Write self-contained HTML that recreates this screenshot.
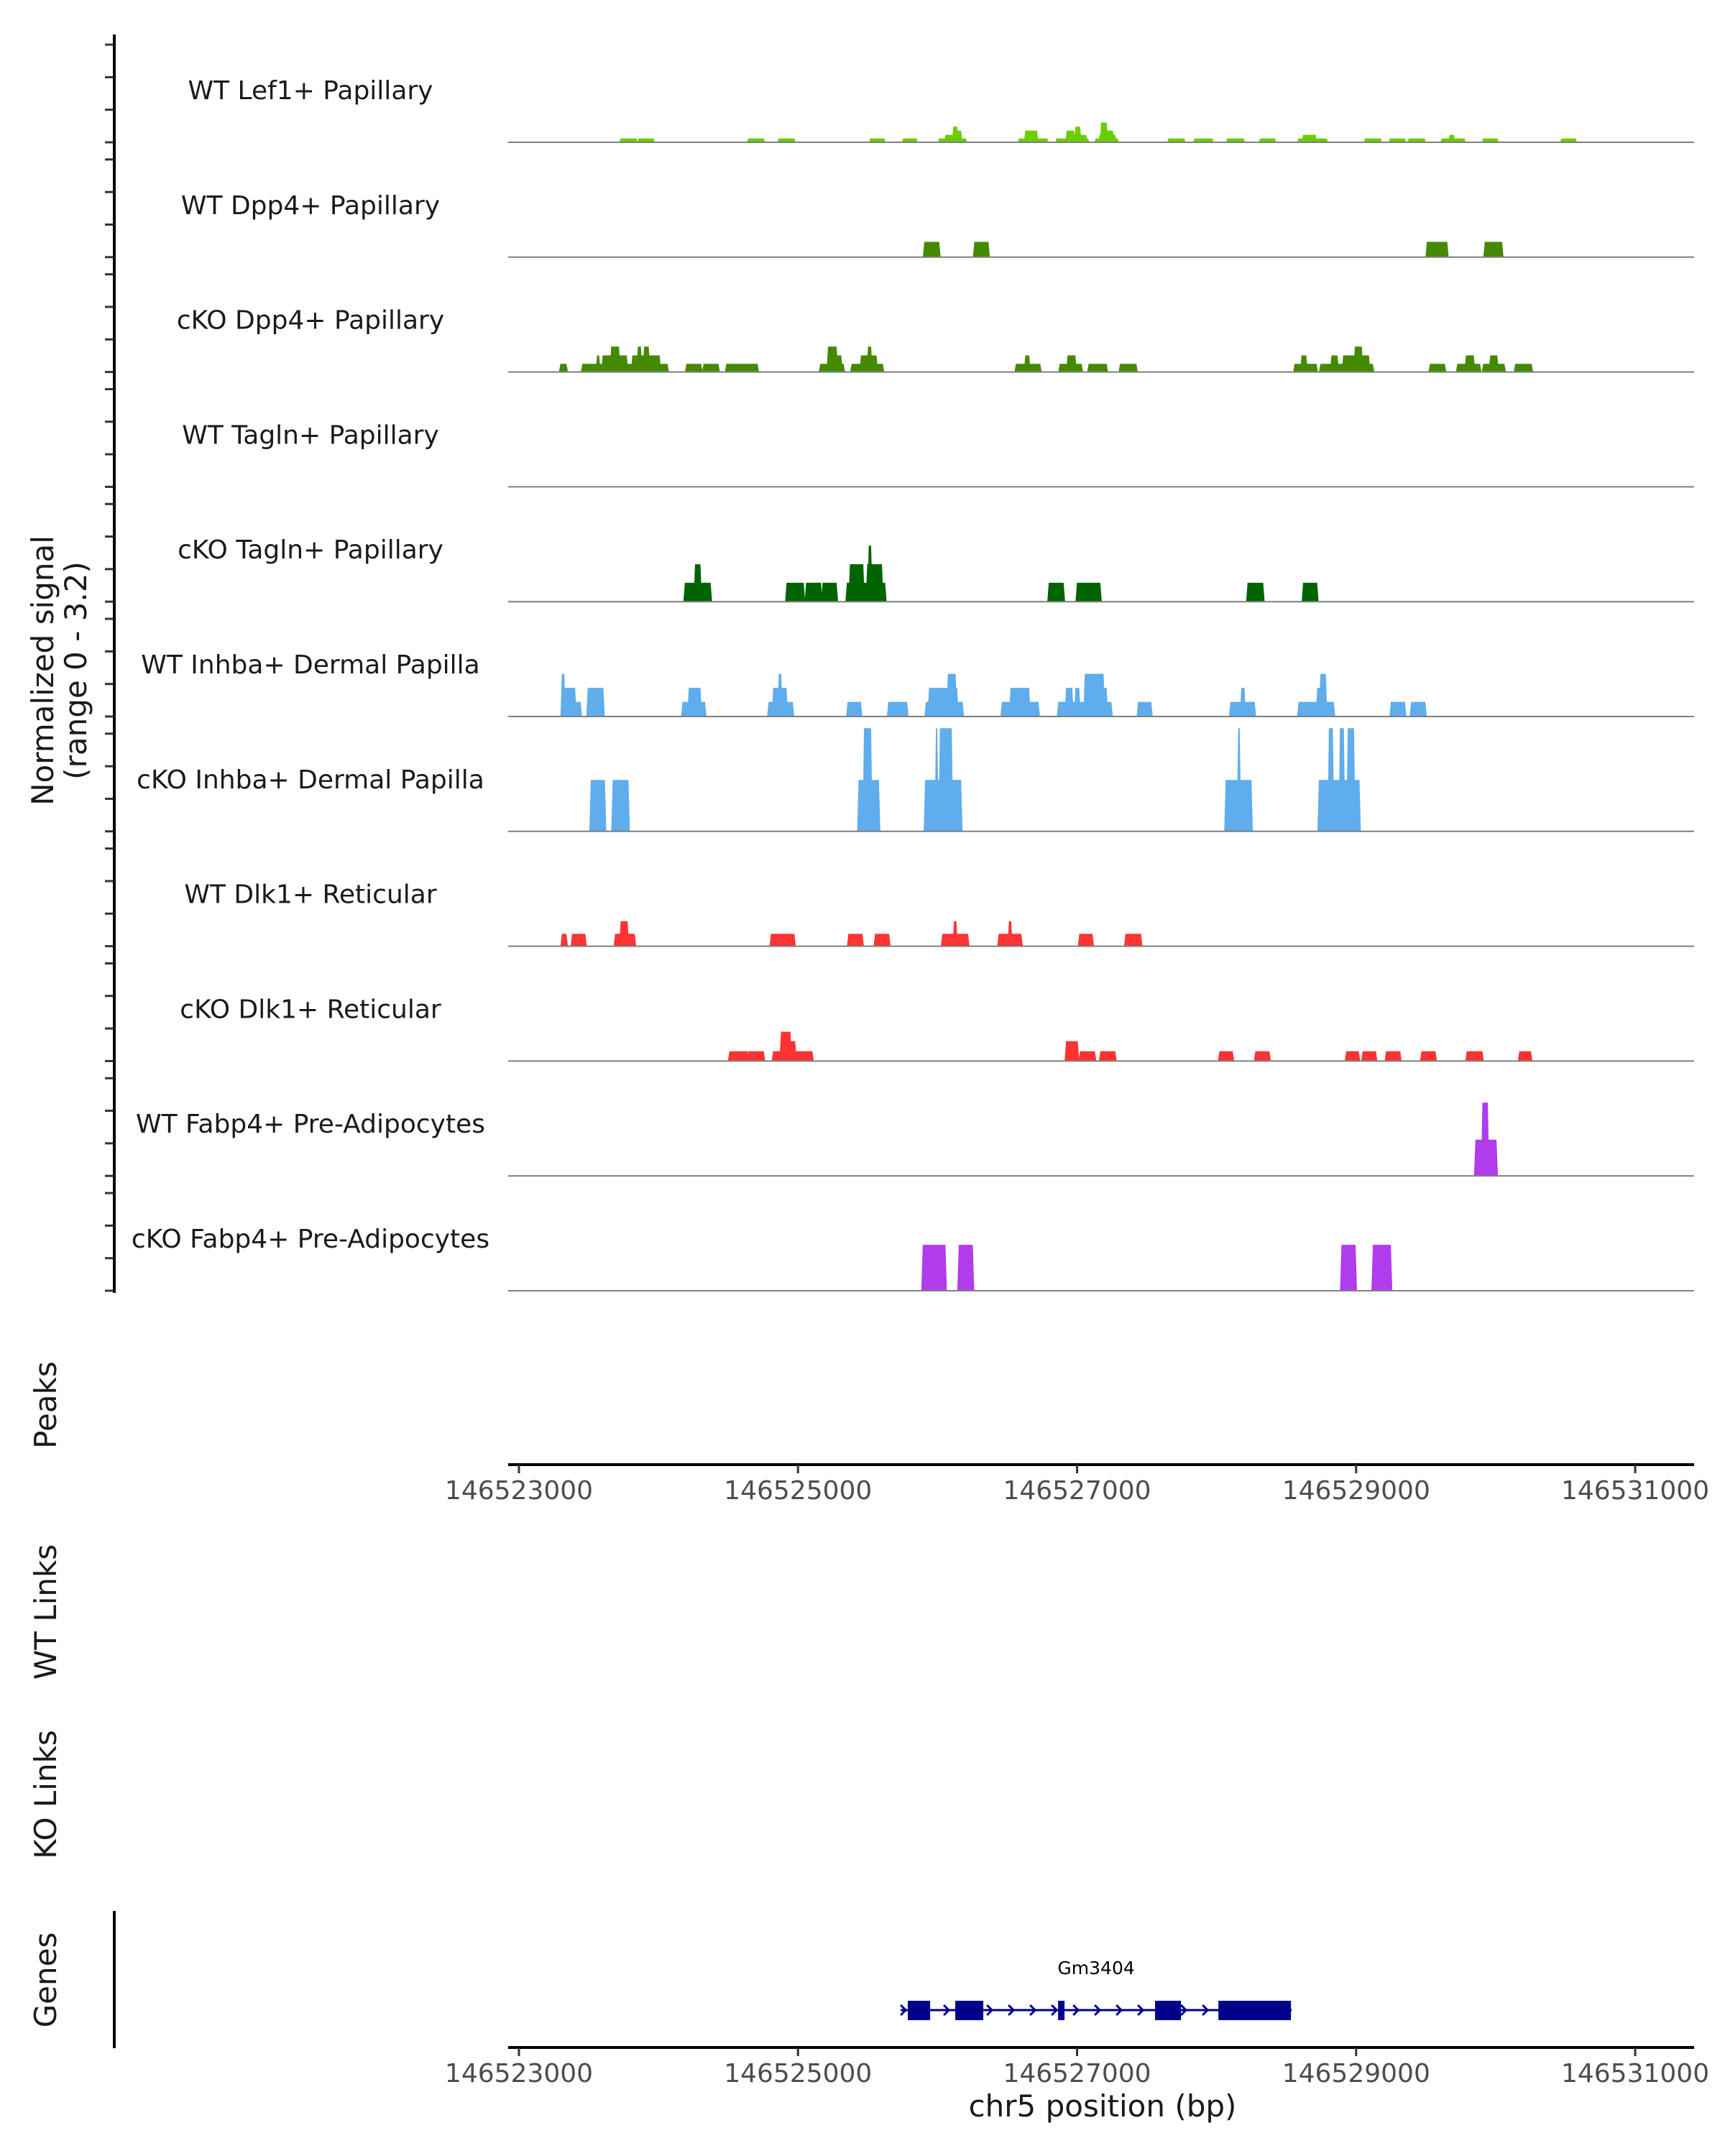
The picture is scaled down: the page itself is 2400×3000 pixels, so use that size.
<!DOCTYPE html>
<html><head><meta charset="utf-8"><style>
html,body{margin:0;padding:0;background:#fff;}
svg{display:block;font-family:"DejaVu Sans","Liberation Sans",sans-serif;}
</style></head><body>
<svg id="chart" width="2400" height="3000" viewBox="0 0 2400 3000" xmlns="http://www.w3.org/2000/svg">
<g id="tracks"></g>
<g id="axes"></g>
<g id="genes"></g>
<text transform="translate(80,933) rotate(-90)" text-anchor="middle" font-size="42" fill="#1a1a1a"><tspan x="0" dy="-6">Normalized signal</tspan><tspan x="0" dy="46">(range 0 - 3.2)</tspan></text>
<text transform="translate(78,1955) rotate(-90)" text-anchor="middle" font-size="42" fill="#1a1a1a">Peaks</text>
<text transform="translate(78,2243) rotate(-90)" text-anchor="middle" font-size="42" fill="#1a1a1a">WT Links</text>
<text transform="translate(78,2497) rotate(-90)" text-anchor="middle" font-size="42" fill="#1a1a1a">KO Links</text>
<text transform="translate(78,2755) rotate(-90)" text-anchor="middle" font-size="42" fill="#1a1a1a">Genes</text>
<text x="1534" y="2945" text-anchor="middle" font-size="42" fill="#1a1a1a">chr5 position (bp)</text>
</svg>
<script>
const regionStart = 146523000;
const trackNames = ["WT Lef1+ Papillary","WT Dpp4+ Papillary","cKO Dpp4+ Papillary","WT Tagln+ Papillary","cKO Tagln+ Papillary","WT Inhba+ Dermal Papilla","cKO Inhba+ Dermal Papilla","WT Dlk1+ Reticular","cKO Dlk1+ Reticular","WT Fabp4+ Pre-Adipocytes","cKO Fabp4+ Pre-Adipocytes"];
const trackColors = ["#6acd00","#448a00","#448a00","#006400","#006400","#5fadec","#5fadec","#ff3333","#ff3333","#b03cec","#b03cec"];
// blocks: [startOffsetBp, endOffsetBp, value]
const lef1WT = [[729,841,.12],[858,964,.12],[1643,1755,.12],[1862,1974,.12],[2518,2619,.12],[2754,2849,.12],[3012,3203,.12],[3057,3169,.23],[3113,3141,.48],[3141,3169,.36],[3584,3786,.12],[3629,3713,.36],[3853,4078,.12],[3926,4066,.23],[3926,3977,.36],[3988,4022,.48],[4134,4291,.12],[4162,4274,.23],[4173,4257,.36],[4173,4212,.61],[4656,4768,.12],[4841,4970,.12],[5076,5194,.12],[5312,5418,.12],[5587,5789,.12],[5620,5710,.23],[6064,6176,.12],[6243,6350,.12],[6378,6490,.12],[6613,6776,.12],[6670,6700,.23],[6911,7012,.12],[7472,7573,.12]];
const dpp4WT = [[2905,3012,.47],[3264,3365,.47],[6507,6653,.47],[6922,7046,.47]];
const dpp4KO = [[297,341,.25],[454,1065,.25],[560,575,.51],[600,773,.51],[661,717,.78],[813,1009,.51],[852,874,.78],[897,930,.78],[1200,1306,.25],[1323,1430,.25],[1486,1710,.25],[2159,2327,.25],[2215,2277,.78],[2277,2310,.51],[2384,2608,.25],[2451,2563,.51],[2502,2524,.78],[3562,3736,.25],[3629,3657,.51],[3876,4033,.25],[3932,3988,.51],[4083,4212,.25],[4308,4425,.25],[5559,5716,.25],[5609,5643,.51],[5744,6120,.25],[5823,5867,.51],[5907,6092,.51],[5991,6041,.78],[6529,6636,.25],[6725,6888,.25],[6787,6843,.51],[6911,7063,.25],[6961,7012,.51],[7140,7258,.25]];
const taglnWT = [];
const taglnKO = [[1189,1374,.58],[1262,1301,1.15],[1918,2041,.58],[2058,2165,.58],[2176,2277,.58],[2350,2625,.58],[2372,2468,1.15],[2496,2602,1.15],[2507,2524,1.72],[3797,3904,.58],[3999,4167,.58],[5222,5334,.58],[5620,5721,.58]];
const inhbaWT = [[308,442,.45],[308,403,.88],[308,325,1.31],[493,605,.88],[1172,1334,.45],[1217,1301,.88],[1789,1963,.45],[1822,1918,.88],[1862,1880,1.31],[2355,2451,.45],[2647,2782,.45],[2916,3180,.45],[2939,3141,.88],[3074,3130,1.31],[3461,3724,.45],[3523,3657,.88],[3865,4246,.45],[3921,3966,.88],[3988,4016,.88],[4055,4190,1.31],[4190,4212,.88],[4437,4532,.45],[5099,5273,.45],[5177,5200,.88],[5587,5840,.45],[5721,5750,.88],[5744,5783,1.31],[6249,6350,.45],[6394,6496,.45]];
const inhbaKO = [[515,616,1.58],[672,785,1.58],[2434,2580,1.58],[2473,2524,3.17],[2911,3169,1.58],[2989,2998,3.17],[3017,3102,3.17],[5065,5250,1.58],[5155,5166,3.17],[5733,6024,1.58],[5805,5833,3.17],[5884,5912,3.17],[5940,5985,3.17]];
const dlk1WT = [[308,341,.38],[381,476,.38],[689,830,.38],[729,779,.77],[1806,1974,.38],[2361,2462,.38],[2552,2653,.38],[3034,3219,.38],[3118,3135,.77],[3438,3601,.38],[3512,3528,.77],[4016,4111,.38],[4347,4459,.38]];
const dlk1KO = [[1508,1637,.3],[1643,1755,.3],[1822,2103,.3],[1878,1946,.9],[1946,1980,.61],[3921,4005,.61],[4021,4128,.3],[4167,4274,.3],[5020,5116,.3],[5278,5379,.3],[5929,6019,.3],[6047,6142,.3],[6215,6316,.3],[6468,6569,.3],[6793,6905,.3],[7169,7253,.3]];
const fabp4WT = [[6855,7006,1.11],[6905,6944,2.25]];
const fabp4KO = [[2894,3057,1.41],[3152,3253,1.41],[5895,5996,1.41],[6120,6249,1.41]];
const trackData = [lef1WT,dpp4WT,dpp4KO,taglnWT,taglnKO,inhbaWT,inhbaKO,dlk1WT,dlk1KO,fabp4WT,fabp4KO];
const xTicks = [146523000,146525000,146527000,146529000,146531000];
const xTickLabels = ["146523000","146525000","146527000","146529000","146531000"];
const geneName = "Gm3404";
const geneSpan = [2736,5538];
const geneExons = [[2787,2947],[3127,3328],[3864,3910],[4559,4745],[5013,5533]];

const NS="http://www.w3.org/2000/svg";
const X0=722, PXBP=0.19413;
function xs(bp){return X0+(bp-regionStart)*PXBP;}
function xo(off){return xs(regionStart+off);}
const BASE0=198, TSTEP=159.8, PXV=45.3;
function ys(i,v){return BASE0+TSTEP*i - v*PXV;}
function mk(tag,attrs,parent){const e=document.createElementNS(NS,tag);for(const k in attrs)e.setAttribute(k,attrs[k]);parent.appendChild(e);return e;}

const tracks=document.getElementById('tracks');
const axes=document.getElementById('axes');
const genes=document.getElementById('genes');
const XR=2357;

trackNames.forEach((name,i)=>{
  const g=mk('g',{},tracks);
  
  
  const lbl=mk('text',{x:432,y:BASE0+TSTEP*i-60,'text-anchor':'middle','font-size':36,fill:'#1a1a1a'},g);
  lbl.textContent=name;
  
  
  trackData[i].forEach(b=>{
    const x1=xo(b[0]),x2=xo(b[1]),yb=ys(i,0),yt=ys(i,b[2]);
    const p=mk('polygon',{points:`${x1-2},${yb} ${x1},${yt} ${x2},${yt} ${x2+2},${yb}`,fill:trackColors[i]},g);
    
    
  });
  const bl=mk('line',{x1:707,x2:XR,y1:ys(i,0),y2:ys(i,0),stroke:'#7f7f7f','stroke-width':2},g);
  
  
  for(let k=0;k<4;k++){
    const t=mk('line',{x1:146,x2:159,y1:ys(i,k),y2:ys(i,k),stroke:'#333','stroke-width':3},axes);
    
    
  }
});
const yl=mk('line',{x1:159,x2:159,y1:48,y2:1799,stroke:'#000','stroke-width':4},axes);


const gl=mk('line',{x1:159,x2:159,y1:2659,y2:2850,stroke:'#000','stroke-width':4},axes);



[[2038,'peaks-x-axis'],[2849,'genes-x-axis']].forEach(([ay,nm])=>{
  const l=mk('line',{x1:707,x2:XR,y1:ay,y2:ay,stroke:'#000','stroke-width':4},axes);
  
  
  xTicks.forEach((t,j)=>{
    const tk=mk('line',{x1:xs(t),x2:xs(t),y1:ay,y2:ay+12,stroke:'#333','stroke-width':3},axes);
    
    
    const tl=mk('text',{x:xs(t),y:ay+48,'text-anchor':'middle','font-size':36,fill:'#4d4d4d'},axes);
    tl.textContent=xTickLabels[j];
    
    
  });
});

const GY=2797;
const gn=mk('text',{x:(xo(geneSpan[0])+xo(geneSpan[1]))/2,y:2747,'text-anchor':'middle','font-size':25,fill:'#000'},genes);
gn.textContent=geneName;


const gline=mk('line',{x1:xo(geneSpan[0]),x2:xo(geneSpan[1]),y1:GY,y2:GY,stroke:'#00008b','stroke-width':3},genes);


for(let x=xo(geneSpan[0])+4;x<xo(geneSpan[1]);x+=30){
  const c=mk('polyline',{points:`${x-4},${GY-7} ${x+3},${GY} ${x-4},${GY+7}`,fill:'none',stroke:'#00008b','stroke-width':3},genes);
  
  
}
geneExons.forEach(e=>{
  const r=mk('rect',{x:xo(e[0]),y:GY-13,width:xo(e[1])-xo(e[0]),height:27,fill:'#00008b'},genes);
  
  
});
</script>
</body></html>
